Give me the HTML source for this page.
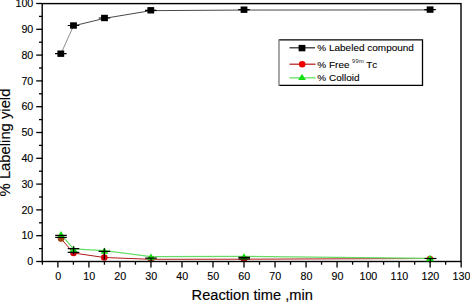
<!DOCTYPE html>
<html><head><meta charset="utf-8"><style>
html,body{margin:0;padding:0;background:#fff;}
svg{display:block;}
text{font-kerning:none;font-family:"Liberation Sans",sans-serif;fill:#000;stroke:#000;stroke-width:0.25px;}
.ax{stroke-width:0.15px;}
.tl{font-size:10.7px;stroke-width:0.12px;}
.lg{font-size:10px;stroke-width:0.1px;}
.sup{font-size:5.8px;stroke-width:0;fill:#222;letter-spacing:0.35px;}
</style></head><body>
<svg width="470" height="303" viewBox="0 0 470 303">
<defs><clipPath id="pc"><rect x="0" y="0" width="470" height="262.2"/></clipPath></defs>
<g clip-path="url(#pc)">
<polyline points="61,238.6 73.5,253 104.3,257.5 151,259.3 244,259.2 430,258.5" fill="none" stroke="#b01818" stroke-width="1.0"/>
<polyline points="61,234.3 73.5,248.9 104.5,250.7 151,256.7 244,256.4 430,258.4" fill="none" stroke="#66dd66" stroke-width="1.2"/>
<polyline points="60.8,54.050000000000004 73.5,25.85" fill="none" stroke="#666" stroke-width="0.75"/>
<polyline points="73.5,25.85 104.5,18.35 150.8,10.65 244,10.049999999999999 430.1,9.95" fill="none" stroke="#333" stroke-width="0.9"/>
<ellipse cx="61" cy="238.6" rx="3.3" ry="3.3" fill="#a04414"/>
<ellipse cx="73.5" cy="253" rx="3.3" ry="3.3" fill="#c80808"/>
<ellipse cx="104.3" cy="257.5" rx="3.3" ry="3.3" fill="#d80000"/>
<ellipse cx="151" cy="259.3" rx="3.3" ry="3.3" fill="#b05020"/>
<ellipse cx="244" cy="259.2" rx="3.3" ry="3.3" fill="#c01010"/>
<ellipse cx="430" cy="259.0" rx="3.3" ry="3.3" fill="#d04010"/>
<polygon points="57.1,237.4 64.9,237.4 61.0,231.1" fill="#10e010"/>
<polygon points="69.6,252.0 77.4,252.0 73.5,245.7" fill="#10e010"/>
<polygon points="100.6,253.8 108.4,253.8 104.5,247.5" fill="#10e010"/>
<polygon points="147.1,259.8 154.9,259.8 151.0,253.5" fill="#10e010"/>
<polygon points="240.1,259.5 247.9,259.5 244.0,253.2" fill="#10e010"/>
<polygon points="426.1,261.5 433.9,261.5 430.0,255.2" fill="#10e010"/>
<line x1="55.0" y1="53.7" x2="66.6" y2="53.7" stroke="#000" stroke-width="1.2"/>
<line x1="67.7" y1="25.5" x2="79.3" y2="25.5" stroke="#000" stroke-width="1.2"/>
<line x1="98.7" y1="18.0" x2="110.3" y2="18.0" stroke="#000" stroke-width="1.2"/>
<line x1="145.0" y1="10.3" x2="156.6" y2="10.3" stroke="#000" stroke-width="1.2"/>
<line x1="238.2" y1="9.7" x2="249.8" y2="9.7" stroke="#000" stroke-width="1.2"/>
<line x1="424.3" y1="9.6" x2="435.9" y2="9.6" stroke="#000" stroke-width="1.2"/>
<rect x="57.4" y="50.5" width="6.8" height="6.4" fill="#000"/>
<rect x="70.1" y="22.3" width="6.8" height="6.4" fill="#000"/>
<rect x="101.1" y="14.8" width="6.8" height="6.4" fill="#000"/>
<rect x="147.4" y="7.1" width="6.8" height="6.4" fill="#000"/>
<rect x="240.6" y="6.5" width="6.8" height="6.4" fill="#000"/>
<rect x="426.7" y="6.4" width="6.8" height="6.4" fill="#000"/>
<line x1="55.2" y1="235.4" x2="66.8" y2="235.4" stroke="#000" stroke-width="1.2"/>
<line x1="55.2" y1="237.3" x2="66.8" y2="237.3" stroke="#000" stroke-width="1.2"/>
<line x1="67.7" y1="248.6" x2="79.3" y2="248.6" stroke="#000" stroke-width="1.2"/>
<line x1="67.7" y1="252.3" x2="79.3" y2="252.3" stroke="#000" stroke-width="1.2"/>
<line x1="73.6" y1="246.3" x2="73.6" y2="254.2" stroke="#000" stroke-width="1.2"/>
<line x1="98.6" y1="251.3" x2="110.2" y2="251.3" stroke="#000" stroke-width="1.2"/>
<line x1="104.3" y1="248.3" x2="104.3" y2="259.5" stroke="#000" stroke-width="1.2"/>
<line x1="145.2" y1="258.2" x2="156.8" y2="258.2" stroke="#000" stroke-width="1.2"/>
<line x1="151" y1="258.2" x2="151" y2="261" stroke="#000" stroke-width="1.2"/>
<line x1="238.4" y1="257.4" x2="250.0" y2="257.4" stroke="#000" stroke-width="1.2"/>
<line x1="238.4" y1="258.8" x2="250.0" y2="258.8" stroke="#000" stroke-width="1.2"/>
<line x1="424.7" y1="258.5" x2="436.3" y2="258.5" stroke="#000" stroke-width="1.2"/>
<line x1="430.3" y1="258.5" x2="430.3" y2="261" stroke="#000" stroke-width="1.2"/>
</g>
<rect x="42.2" y="3.6" width="418.8" height="257.9" fill="none" stroke="#000" stroke-width="1.4"/>
<line x1="36.2" y1="261.50" x2="42.2" y2="261.50" stroke="#000" stroke-width="1.3"/>
<line x1="39.0" y1="248.60" x2="42.2" y2="248.60" stroke="#000" stroke-width="1.3"/>
<line x1="36.2" y1="235.70" x2="42.2" y2="235.70" stroke="#000" stroke-width="1.3"/>
<line x1="39.0" y1="222.80" x2="42.2" y2="222.80" stroke="#000" stroke-width="1.3"/>
<line x1="36.2" y1="209.90" x2="42.2" y2="209.90" stroke="#000" stroke-width="1.3"/>
<line x1="39.0" y1="197.00" x2="42.2" y2="197.00" stroke="#000" stroke-width="1.3"/>
<line x1="36.2" y1="184.10" x2="42.2" y2="184.10" stroke="#000" stroke-width="1.3"/>
<line x1="39.0" y1="171.20" x2="42.2" y2="171.20" stroke="#000" stroke-width="1.3"/>
<line x1="36.2" y1="158.30" x2="42.2" y2="158.30" stroke="#000" stroke-width="1.3"/>
<line x1="39.0" y1="145.40" x2="42.2" y2="145.40" stroke="#000" stroke-width="1.3"/>
<line x1="36.2" y1="132.50" x2="42.2" y2="132.50" stroke="#000" stroke-width="1.3"/>
<line x1="39.0" y1="119.60" x2="42.2" y2="119.60" stroke="#000" stroke-width="1.3"/>
<line x1="36.2" y1="106.70" x2="42.2" y2="106.70" stroke="#000" stroke-width="1.3"/>
<line x1="39.0" y1="93.80" x2="42.2" y2="93.80" stroke="#000" stroke-width="1.3"/>
<line x1="36.2" y1="80.90" x2="42.2" y2="80.90" stroke="#000" stroke-width="1.3"/>
<line x1="39.0" y1="68.00" x2="42.2" y2="68.00" stroke="#000" stroke-width="1.3"/>
<line x1="36.2" y1="55.10" x2="42.2" y2="55.10" stroke="#000" stroke-width="1.3"/>
<line x1="39.0" y1="42.20" x2="42.2" y2="42.20" stroke="#000" stroke-width="1.3"/>
<line x1="36.2" y1="29.30" x2="42.2" y2="29.30" stroke="#000" stroke-width="1.3"/>
<line x1="39.0" y1="16.40" x2="42.2" y2="16.40" stroke="#000" stroke-width="1.3"/>
<line x1="36.2" y1="3.50" x2="42.2" y2="3.50" stroke="#000" stroke-width="1.3"/>
<line x1="42.39" y1="261.5" x2="42.39" y2="264.7" stroke="#000" stroke-width="1.3"/>
<line x1="57.90" y1="261.5" x2="57.90" y2="267.5" stroke="#000" stroke-width="1.3"/>
<line x1="73.41" y1="261.5" x2="73.41" y2="264.7" stroke="#000" stroke-width="1.3"/>
<line x1="88.92" y1="261.5" x2="88.92" y2="267.5" stroke="#000" stroke-width="1.3"/>
<line x1="104.43" y1="261.5" x2="104.43" y2="264.7" stroke="#000" stroke-width="1.3"/>
<line x1="119.94" y1="261.5" x2="119.94" y2="267.5" stroke="#000" stroke-width="1.3"/>
<line x1="135.45" y1="261.5" x2="135.45" y2="264.7" stroke="#000" stroke-width="1.3"/>
<line x1="150.96" y1="261.5" x2="150.96" y2="267.5" stroke="#000" stroke-width="1.3"/>
<line x1="166.47" y1="261.5" x2="166.47" y2="264.7" stroke="#000" stroke-width="1.3"/>
<line x1="181.98" y1="261.5" x2="181.98" y2="267.5" stroke="#000" stroke-width="1.3"/>
<line x1="197.49" y1="261.5" x2="197.49" y2="264.7" stroke="#000" stroke-width="1.3"/>
<line x1="213.00" y1="261.5" x2="213.00" y2="267.5" stroke="#000" stroke-width="1.3"/>
<line x1="228.51" y1="261.5" x2="228.51" y2="264.7" stroke="#000" stroke-width="1.3"/>
<line x1="244.02" y1="261.5" x2="244.02" y2="267.5" stroke="#000" stroke-width="1.3"/>
<line x1="259.53" y1="261.5" x2="259.53" y2="264.7" stroke="#000" stroke-width="1.3"/>
<line x1="275.04" y1="261.5" x2="275.04" y2="267.5" stroke="#000" stroke-width="1.3"/>
<line x1="290.55" y1="261.5" x2="290.55" y2="264.7" stroke="#000" stroke-width="1.3"/>
<line x1="306.06" y1="261.5" x2="306.06" y2="267.5" stroke="#000" stroke-width="1.3"/>
<line x1="321.57" y1="261.5" x2="321.57" y2="264.7" stroke="#000" stroke-width="1.3"/>
<line x1="337.08" y1="261.5" x2="337.08" y2="267.5" stroke="#000" stroke-width="1.3"/>
<line x1="352.59" y1="261.5" x2="352.59" y2="264.7" stroke="#000" stroke-width="1.3"/>
<line x1="368.10" y1="261.5" x2="368.10" y2="267.5" stroke="#000" stroke-width="1.3"/>
<line x1="383.61" y1="261.5" x2="383.61" y2="264.7" stroke="#000" stroke-width="1.3"/>
<line x1="399.12" y1="261.5" x2="399.12" y2="267.5" stroke="#000" stroke-width="1.3"/>
<line x1="414.63" y1="261.5" x2="414.63" y2="264.7" stroke="#000" stroke-width="1.3"/>
<line x1="430.14" y1="261.5" x2="430.14" y2="267.5" stroke="#000" stroke-width="1.3"/>
<line x1="445.65" y1="261.5" x2="445.65" y2="264.7" stroke="#000" stroke-width="1.3"/>
<line x1="461.16" y1="261.5" x2="461.16" y2="267.5" stroke="#000" stroke-width="1.3"/>
<polygon points="426.1,261.2 433.9,261.2 430.0,254.9" fill="#10e010"/>
<line x1="424.7" y1="258.5" x2="436.3" y2="258.5" stroke="#000" stroke-width="1.2"/>
<line x1="430.3" y1="258.5" x2="430.3" y2="263" stroke="#000" stroke-width="1.2"/>
<text transform="translate(33.3,265.2) scale(1,1.0)" text-anchor="end" class="tl">0</text>
<text transform="translate(33.3,239.4) scale(1,1.0)" text-anchor="end" class="tl">10</text>
<text transform="translate(33.3,213.6) scale(1,1.0)" text-anchor="end" class="tl">20</text>
<text transform="translate(33.3,187.8) scale(1,1.0)" text-anchor="end" class="tl">30</text>
<text transform="translate(33.3,162.0) scale(1,1.0)" text-anchor="end" class="tl">40</text>
<text transform="translate(33.3,136.2) scale(1,1.0)" text-anchor="end" class="tl">50</text>
<text transform="translate(33.3,110.4) scale(1,1.0)" text-anchor="end" class="tl">60</text>
<text transform="translate(33.3,84.6) scale(1,1.0)" text-anchor="end" class="tl">70</text>
<text transform="translate(33.3,58.8) scale(1,1.0)" text-anchor="end" class="tl">80</text>
<text transform="translate(33.3,33.0) scale(1,1.0)" text-anchor="end" class="tl">90</text>
<text transform="translate(33.3,7.2) scale(1,1.0)" text-anchor="end" class="tl">100</text>
<text transform="translate(58.2,279.9) scale(1,1.0)" text-anchor="middle" class="tl">0</text>
<text transform="translate(89.2,279.9) scale(1,1.0)" text-anchor="middle" class="tl">10</text>
<text transform="translate(120.2,279.9) scale(1,1.0)" text-anchor="middle" class="tl">20</text>
<text transform="translate(151.3,279.9) scale(1,1.0)" text-anchor="middle" class="tl">30</text>
<text transform="translate(182.3,279.9) scale(1,1.0)" text-anchor="middle" class="tl">40</text>
<text transform="translate(213.3,279.9) scale(1,1.0)" text-anchor="middle" class="tl">50</text>
<text transform="translate(244.3,279.9) scale(1,1.0)" text-anchor="middle" class="tl">60</text>
<text transform="translate(275.3,279.9) scale(1,1.0)" text-anchor="middle" class="tl">70</text>
<text transform="translate(306.4,279.9) scale(1,1.0)" text-anchor="middle" class="tl">80</text>
<text transform="translate(337.4,279.9) scale(1,1.0)" text-anchor="middle" class="tl">90</text>
<text transform="translate(368.4,279.9) scale(1,1.0)" text-anchor="middle" class="tl">100</text>
<text transform="translate(399.4,279.9) scale(1,1.0)" text-anchor="middle" class="tl">110</text>
<text transform="translate(430.4,279.9) scale(1,1.0)" text-anchor="middle" class="tl">120</text>
<text transform="translate(461.5,279.9) scale(1,1.0)" text-anchor="middle" class="tl">130</text>
<rect x="279" y="39.8" width="143.5" height="45.5" fill="#fff" stroke="none"/>
<path d="M279,39.8 H422.5 V85.3 H279" fill="none" stroke="#000" stroke-width="1.3"/>
<line x1="279" y1="39.2" x2="279" y2="85.9" stroke="#777" stroke-width="1.3"/>
<line x1="289.5" y1="47.8" x2="315" y2="47.8" stroke="#222" stroke-width="1.2"/>
<rect x="298.6" y="44.9" width="6.8" height="6.4" fill="#000"/>
<line x1="289.5" y1="64.2" x2="315.6" y2="64.2" stroke="#b01818" stroke-width="1.2"/>
<ellipse cx="302.2" cy="64.3" rx="3.3" ry="3.3" fill="#ee0000"/>
<line x1="289.5" y1="77.8" x2="315.6" y2="77.8" stroke="#80e880" stroke-width="1.6"/>
<polygon points="298.1,80.1 305.9,80.1 302.0,73.8" fill="#10e010"/>
<text transform="translate(317.3,51.1) scale(1,0.9)" class="lg">% Labeled compound</text>
<text transform="translate(317.3,67.9) scale(1,0.9)" class="lg">% Free <tspan class="sup" dy="-6.0" dx="-0.3">99m</tspan><tspan dy="6.0" dx="-0.9"> Tc</tspan></text>
<text transform="translate(317.3,80.9) scale(1,0.9)" class="lg">% Colloid</text>
<text transform="translate(252.2,300.45) scale(1,0.96)" text-anchor="middle" class="ax" style="font-size:14.65px">Reaction time ,min</text>
<text transform="translate(10.1,142.5) rotate(-90)" text-anchor="middle" class="ax" style="font-size:14.8px">% Labeling yield</text>
</svg>
</body></html>
